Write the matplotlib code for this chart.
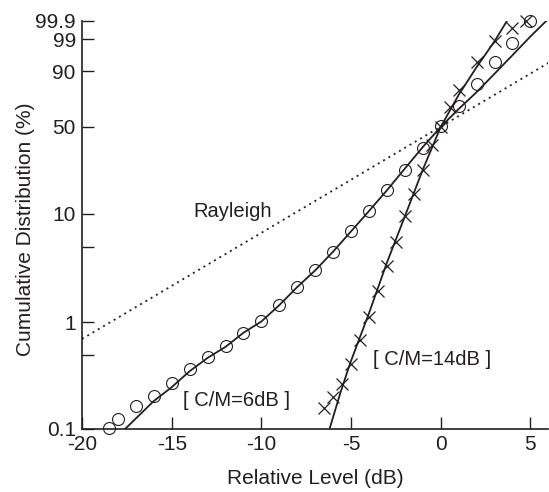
"""Cumulative distribution of received level on Rayleigh paper."""
import matplotlib
matplotlib.use('Agg')
import matplotlib.pyplot as plt
from matplotlib.ticker import NullFormatter
import numpy as np

INK = '#231f20'

# measured points, C/M = 6 dB (circles)
C6_DB = [-18.5, -18, -17, -16, -15, -14, -13, -12, -11, -10, -9, -8, -7,
         -6, -5, -4, -3, -2, -1, 0, 1, 2, 3, 4, 5]
C6_PCT = [0.103, 0.123, 0.165, 0.205, 0.27, 0.364, 0.47, 0.60, 0.80, 1.02,
          1.45, 2.14, 3.05, 4.55, 6.96, 10.6, 16.1, 23.7, 35.6, 50.7, 66.5,
          82.6, 93.9, 98.6, 99.89]

# theory curve, C/M = 6 dB
C6_FIT_DB = [-17.6, -16, -15, -14, -13, -12, -11, -10, -9, -8, -7, -6, -5,
             -4, -3, -2, -1, 0, 1, 2, 3, 4, 5, 5.9]
C6_FIT_PCT = [0.1, 0.183, 0.247, 0.349, 0.465, 0.59, 0.80, 1.02, 1.45, 2.14,
              3.05, 4.55, 6.96, 10.6, 16.1, 24.5, 36.1, 50, 64, 77, 88.8,
              96.2, 99.26, 99.9]

# measured points, C/M = 14 dB (crosses)
C14_DB = [-6.5, -6, -5.5, -5, -4.5, -4, -3.5, -3, -2.5, -2, -1.5, -1, -0.5,
          0, 0.5, 1, 2, 3, 4, 4.75]
C14_PCT = [0.158, 0.201, 0.265, 0.408, 0.685, 1.12, 1.95, 3.32, 5.58, 9.5,
           15.0, 23.7, 37.5, 50, 65.4, 78.7, 94.1, 98.85, 99.72, 99.9]

# theory curve, C/M = 14 dB
C14_FIT_DB = [-6.2, -5.6, -5.05, -4, -3, -2, -1, 0, 1, 2, 3, 3.7]
C14_FIT_PCT = [0.1, 0.217, 0.415, 1.22, 3.6, 9.5, 24, 50, 75, 92, 98.8, 99.9]

# Rayleigh reference line (straight on this paper)
RAYLEIGH_DB = [-20, 6]
RAYLEIGH_PCT = [0.70, 93.7]

Y_TICKS = [0.1, 1, 10, 50, 90, 99, 99.9]
Y_TICKLABELS = ['0.1', '1', '10', '50', '90', '99', '99.9']
Y_MINOR = [0.5, 5]
X_TICKS = [-20, -15, -10, -5, 0, 5]


def to_paper(p):
    p = np.clip(np.asarray(p, dtype=float), 1e-9, 100 - 1e-9)
    return np.log10(-np.log1p(-p / 100.0))


def from_paper(y):
    return 100.0 * -np.expm1(-10.0 ** np.asarray(y, dtype=float))


def plot():
    plt.rcParams['font.family'] = ['Liberation Sans', 'DejaVu Sans']
    plt.rcParams['text.color'] = INK
    plt.rcParams['axes.labelcolor'] = INK

    fig = plt.figure(figsize=(5.49, 4.92), dpi=100)
    ax = fig.add_axes([0.1494, 0.1281, 0.8494, 0.8299])

    ax.set_yscale('function', functions=(to_paper, from_paper))
    ax.set_xlim(-20, 6)
    ax.set_ylim(0.1, 99.9)

    # Rayleigh
    ax.plot(RAYLEIGH_DB, RAYLEIGH_PCT, color=INK, lw=1.3,
            linestyle=(0, (1.1, 2.3)))

    # theory curves
    ax.plot(C6_FIT_DB, C6_FIT_PCT, color=INK, lw=1.3)
    ax.plot(C14_FIT_DB, C14_FIT_PCT, color=INK, lw=1.3)

    # measurements
    ax.plot(C6_DB, C6_PCT, 'o', ms=8.6, mfc='none', mec=INK, mew=0.8,
            clip_on=False)
    ax.plot(C14_DB, C14_PCT, 'x', ms=8.6, mec=INK, mew=0.9, clip_on=False)

    ax.text(-11.6, 10.6, 'Rayleigh', fontsize=14.5, ha='center', va='center')
    ax.text(-11.4, 0.187, '[ C/M=6dB ]', fontsize=14.5, ha='center',
            va='center')
    ax.text(-0.5, 0.447, '[ C/M=14dB ]', fontsize=14.5, ha='center',
            va='center')

    # axes look
    for side in ('top', 'right'):
        ax.spines[side].set_visible(False)
    for side in ('left', 'bottom'):
        ax.spines[side].set_linewidth(1.2)
        ax.spines[side].set_color(INK)

    ax.set_yticks(Y_TICKS)
    ax.set_yticklabels(Y_TICKLABELS)
    ax.set_yticks(Y_MINOR, minor=True)
    ax.yaxis.set_minor_formatter(NullFormatter())
    ax.set_xticks(X_TICKS)
    ax.set_xticklabels([str(t) for t in X_TICKS])
    ax.tick_params(which='both', direction='in', length=8.4, width=1.0,
                   color=INK, labelsize=15, labelcolor=INK, pad=4.5)

    ax.set_xlabel('Relative Level (dB)', fontsize=15)
    ax.set_ylabel('Cumulative Distribution (%)', fontsize=15)
    ax.xaxis.set_label_coords(0.5, -0.098)
    ax.yaxis.set_label_coords(-0.1, 0.49)

    fig.savefig('out.png', dpi=100)


def main():
    plot()


if __name__ == '__main__':
    main()
